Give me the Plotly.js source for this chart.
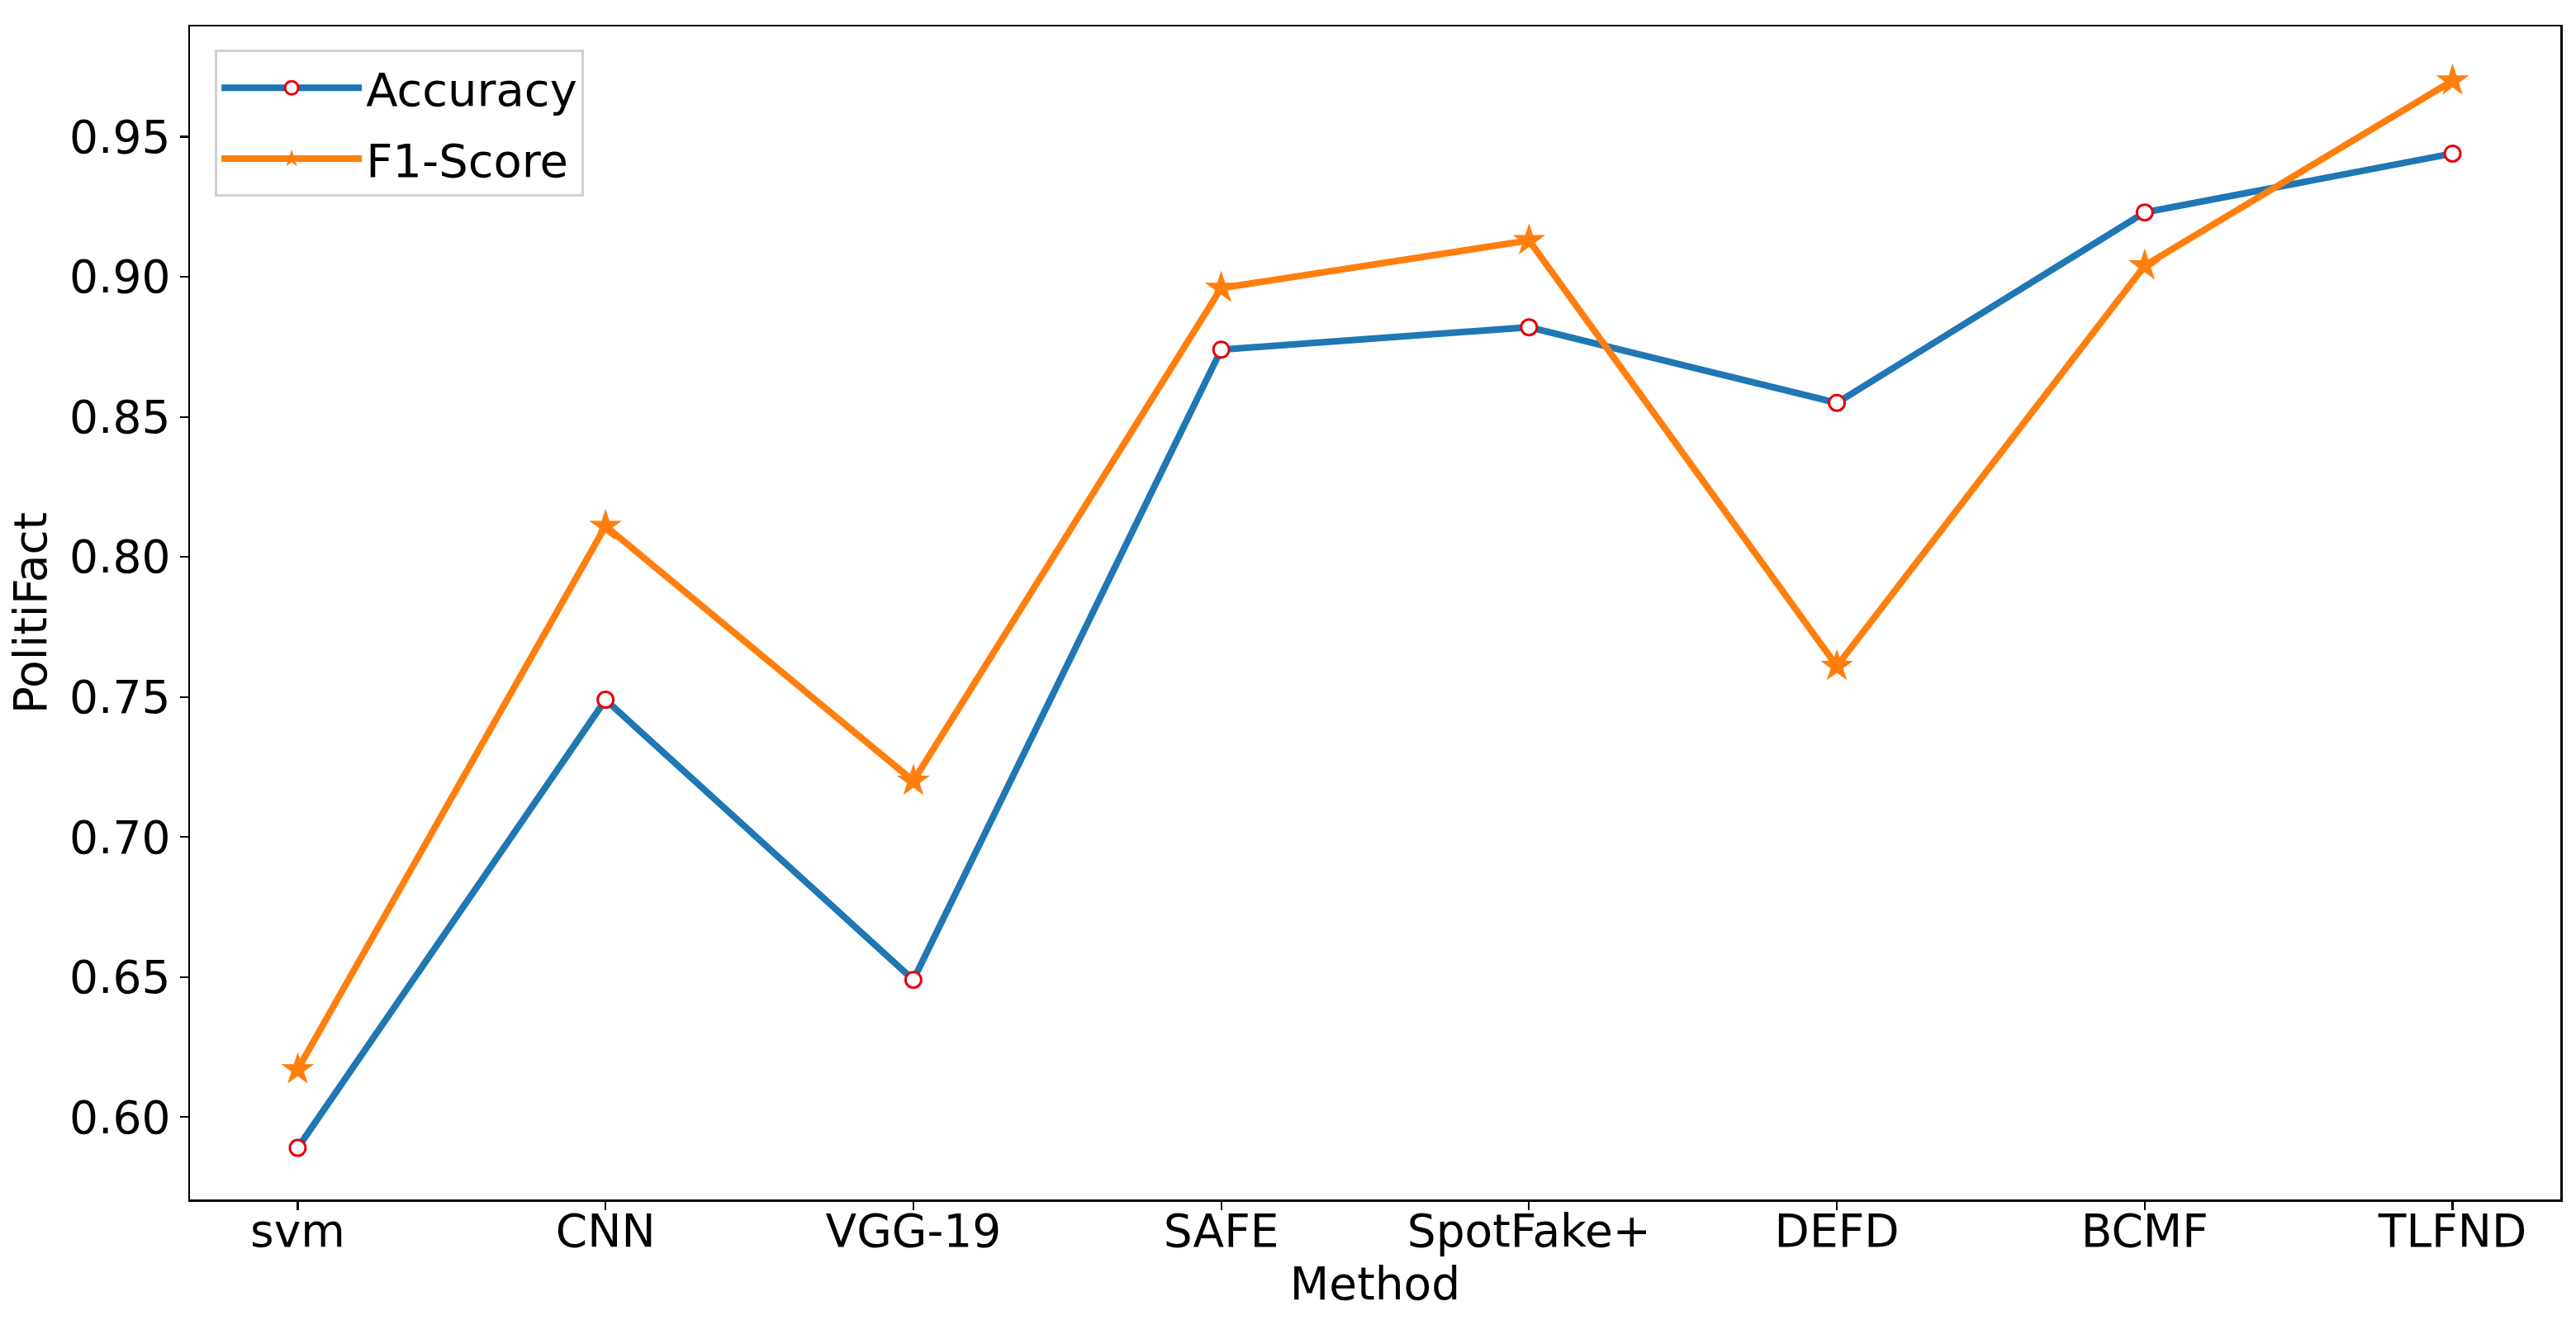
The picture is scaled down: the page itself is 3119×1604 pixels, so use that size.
<!DOCTYPE html>
<html>
<head>
<meta charset="utf-8">
<script src="https://cdn.plot.ly/plotly-3.0.1.min.js"></script>
<style>
html,body{margin:0;padding:0;background:#fff;}
#chart{width:3119px;height:1604px;}
</style>
</head>
<body>
<div id="chart"></div>
<script>
const methods = ["svm", "CNN", "VGG-19", "SAFE", "SpotFake+", "DEFD", "BCMF", "TLFND"];
const accuracy = [0.589, 0.749, 0.649, 0.874, 0.882, 0.855, 0.923, 0.944];
const f1Score = [0.617, 0.811, 0.720, 0.896, 0.913, 0.761, 0.904, 0.970];
const yTicks = [0.60, 0.65, 0.70, 0.75, 0.80, 0.85, 0.90, 0.95];

const xIdx = methods.map((m, i) => i);
const font = "DejaVu Sans, Liberation Sans, sans-serif";

const traces = [
  {
    x: xIdx, y: accuracy, name: "Accuracy", type: "scatter", mode: "lines+markers",
    legendgroup: "a",
    line: {color: "#1f77b4", width: 8},
    marker: {symbol: "circle", size: 19, color: "#ffffff", line: {color: "#e8000b", width: 3}}
  },
  {
    x: xIdx, y: f1Score, name: "F1-Score", type: "scatter", mode: "lines+markers",
    legendgroup: "b",
    line: {color: "#ff7f0e", width: 8},
    marker: {symbol: "star", size: 30, color: "#ff7f0e", line: {width: 0}}
  }
];

const layout = {
  width: 3119, height: 1604,
  margin: {l: 230, r: 19, t: 32, b: 152, pad: 0},
  paper_bgcolor: "#ffffff", plot_bgcolor: "#ffffff",
  font: {family: font, size: 55, color: "#000000"},
  showlegend: true,
  legend: {
    x: 0.0105, y: 0.98, xanchor: "left", yanchor: "top",
    bgcolor: "rgba(255,255,255,0.8)", bordercolor: "#d0d0d0", borderwidth: 3,
    font: {family: font, size: 56, color: "#000000"},
    itemwidth: 170, tracegroupgap: 10
  },
  xaxis: {
    range: [-0.35, 7.35],
    tickmode: "array", tickvals: xIdx, ticktext: methods,
    showgrid: false, zeroline: false,
    showline: true, mirror: true, linecolor: "#000000", linewidth: 2.5,
    ticks: "outside", ticklen: 10, tickwidth: 2.2, tickcolor: "#000000",
    ticklabelstandoff: -22,
    tickfont: {family: font, size: 55, color: "#000000"},
    title: {text: "Method", font: {family: font, size: 55, color: "#000000"}, standoff: 2}
  },
  yaxis: {
    range: [0.5706, 0.9894],
    tickmode: "array", tickvals: yTicks, ticktext: yTicks.map(v => v.toFixed(2)),
    showgrid: false, zeroline: false,
    showline: true, mirror: true, linecolor: "#000000", linewidth: 2.5,
    ticks: "outside", ticklen: 10, tickwidth: 2.2, tickcolor: "#000000",
    tickfont: {family: font, size: 55, color: "#000000"},
    title: {text: "PolitiFact", font: {family: font, size: 55, color: "#000000"}, standoff: 10}
  }
};

Plotly.newPlot("chart", traces, layout, {staticPlot: true, displayModeBar: false});
</script>
</body>
</html>
